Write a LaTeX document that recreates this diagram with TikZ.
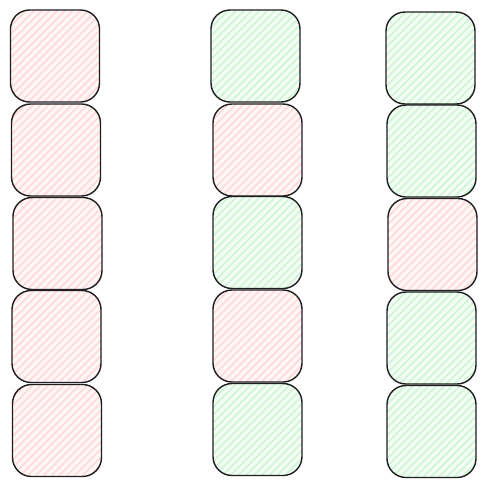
\documentclass[tikz,border=0pt]{standalone}
\usetikzlibrary{patterns.meta}
\definecolor{stroke}{HTML}{1E1E1E}
\definecolor{pinkbg}{HTML}{FFF6F6}
\definecolor{pinkln}{HTML}{FFD9D9}
\definecolor{greenbg}{HTML}{F4FDF5}
\definecolor{greenln}{HTML}{CDF5D4}
\tikzset{
  cellbase/.style={draw=stroke, line width=1.4pt, rounded corners=19pt,
    minimum width=89pt, minimum height=92pt, inner sep=0pt},
  pinkcell/.style={cellbase, preaction={fill=pinkbg},
    pattern={Lines[angle=45,distance=5.5pt,line width=1.6pt]}, pattern color=pinkln},
  greencell/.style={cellbase, preaction={fill=greenbg},
    pattern={Lines[angle=45,distance=5.5pt,line width=1.6pt]}, pattern color=greenln}
}
\begin{document}
\begin{tikzpicture}[x=1pt,y=-1pt]
\useasboundingbox (0,0) rectangle (488,488);
\fill[white] (0,0) rectangle (488,488);
% column 1
\node[pinkcell] (a1) at (55,56) {};
\node[pinkcell] (a2) at (56,150) {};
\node[pinkcell] (a3) at (57.5,243.5) {};
\node[pinkcell] (a4) at (56.5,336.5) {};
\node[pinkcell] (a5) at (57,430.5) {};
% column 2
\node[greencell] (b1) at (255.5,56) {};
\node[pinkcell] (b2) at (257.5,150) {};
\node[greencell] (b3) at (257.5,242.5) {};
\node[pinkcell] (b4) at (257.5,336) {};
\node[greencell] (b5) at (257.5,429.5) {};
% column 3
\node[greencell] (c1) at (430.5,58) {};
\node[greencell] (c2) at (431.5,151) {};
\node[pinkcell] (c3) at (432.5,244.5) {};
\node[greencell] (c4) at (431.5,338) {};
\node[greencell] (c5) at (431.5,431.5) {};
\end{tikzpicture}
\end{document}
